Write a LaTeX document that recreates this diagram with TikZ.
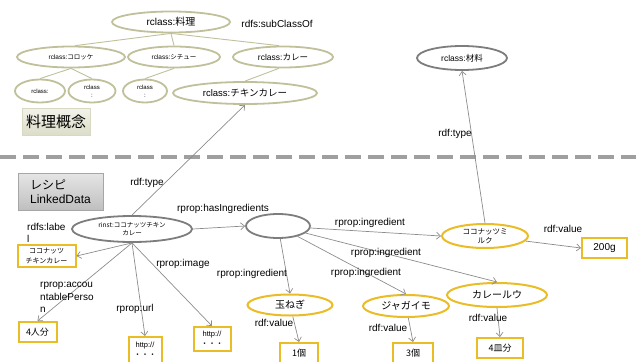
\documentclass[tikz,border=0pt]{standalone}
\usepackage{fontspec}
\setmainfont{Liberation Sans}
\newfontfamily\jp{Noto Sans CJK JP}
\usetikzlibrary{shapes.geometric,arrows.meta}
\definecolor{olv}{RGB}{192,192,155}
\definecolor{gry}{RGB}{125,125,125}
\definecolor{ylw}{RGB}{234,188,38}
\definecolor{lne}{RGB}{140,140,140}
\begin{document}
\begin{tikzpicture}[x=1pt,y=-1pt,
  oell/.style={ellipse,draw=olv,line width=1.8pt,inner sep=0pt,align=center},
  gell/.style={ellipse,draw=gry,line width=1.8pt,inner sep=0pt,align=center},
  yell/.style={ellipse,draw=ylw,line width=2pt,inner sep=0pt,align=center,font=\jp\fontsize{10}{11}\selectfont},
  ybox/.style={rectangle,draw=ylw,line width=2pt,inner sep=0pt,align=center,fill=white,font=\jp\fontsize{9}{10}\selectfont},
  lbl/.style={inner sep=0pt,font=\fontsize{10}{12}\selectfont,align=left},
  tline/.style={draw=olv,line width=0.9pt},
  arr/.style={draw=lne,line width=0.7pt,-{Straight Barb[length=4pt,width=7pt]}},
]
\useasboundingbox (0,0) rectangle (636,361);
% ---------- top: concepts
\node[oell,minimum width=118,minimum height=21,font=\fontsize{10}{12}\selectfont] (ryouri) at (171,22) {rclass:{\jp 料理}};
\node[lbl] (sub) at (277,24) {rdfs:subClassOf};
\node[oell,minimum width=108,minimum height=21,font=\fontsize{6.5}{8}\selectfont] (koro) at (71,57) {rclass:{\jp コロッケ}};
\node[oell,minimum width=92,minimum height=21,font=\fontsize{6.5}{8}\selectfont] (stew) at (174,57) {rclass:{\jp シチュー}};
\node[oell,minimum width=100,minimum height=21,font=\fontsize{8.5}{10}\selectfont] (curry) at (283,57) {rclass:{\jp カレー}};
\node[oell,minimum width=50,minimum height=23,font=\fontsize{6}{7}\selectfont] (s1) at (40,91) {rclass:};
\node[oell,minimum width=47,minimum height=23,font=\fontsize{6}{8}\selectfont] (s2) at (92,91) {rclass\\:};
\node[oell,minimum width=44,minimum height=23,font=\fontsize{6}{8}\selectfont] (s3) at (145,91) {rclass\\:};
\node[oell,minimum width=144,minimum height=22,font=\fontsize{9.5}{11}\selectfont] (chicken) at (245,93) {rclass:{\jp チキンカレー}};
\draw[tline] (ryouri.south) -- (koro.70);
\draw[tline] (ryouri.south) -- (stew.north);
\draw[tline] (ryouri.south) -- (curry.110);
\draw[tline] (koro.south) -- (s1.north);
\draw[tline] (koro.south) -- (s2.north);
\draw[tline] (stew.south) -- (s3.north);
\draw[tline] (curry.250) -- (chicken.north);
\node[draw=olv!60,line width=0.6pt,top color=olv!20,bottom color=olv!55,minimum width=68,minimum height=27,inner sep=0pt,font=\jp\fontsize{15}{16}\selectfont] (gainen) at (56,122) {料理概念};
\node[gell,minimum width=90,minimum height=24,font=\fontsize{8.5}{10}\selectfont] (zairyo) at (462,58) {rclass:{\jp 材料}};
% ---------- separator
\draw[gray!75,line width=4pt,dash pattern=on 16pt off 7pt] (0,157) -- (636,157);
% ---------- bottom: linked data
\node[draw=gray!70,line width=0.6pt,top color=gray!20,bottom color=gray!50,minimum width=85,minimum height=37,inner sep=4pt,align=left,font=\fontsize{12}{14}\selectfont] (recipe) at (60.5,191.5) {{\jp レシピ}\\LinkedData\hspace*{\fill}};
\node[gell,minimum width=120,minimum height=26,font=\jp\fontsize{6.5}{8}\selectfont] (rinst) at (132,229) {rinst:ココナッツチキン\\カレー};
\node[gell,minimum width=64,minimum height=24] (blank) at (278,226) {};
\node[ybox,minimum width=58,minimum height=22,font=\jp\fontsize{7}{10}\selectfont] (lab) at (46.5,256) {ココナッツ\\チキンカレー};
\node[ybox,minimum width=38,minimum height=20] (p4) at (37.5,332) {4人分};
\node[ybox,minimum width=33,minimum height=26,font=\fontsize{7.5}{10}\selectfont] (h1) at (145,350) {http://\\{\jp ・・・}};
\node[ybox,minimum width=37,minimum height=24,font=\fontsize{7.5}{10}\selectfont] (h2) at (212,339) {http://\\{\jp ・・・}};
\node[yell,minimum width=85,minimum height=21] (tama) at (290,305) {玉ねぎ};
\node[yell,minimum width=86,minimum height=22] (jaga) at (406,306) {ジャガイモ};
\node[yell,minimum width=100,minimum height=24] (roux) at (497,295) {カレールウ};
\node[yell,minimum width=86,minimum height=24,font=\jp\fontsize{7.5}{9}\selectfont] (milk) at (485,236) {ココナッツミ\\ルク};
\node[ybox,minimum width=38,minimum height=20] (b1) at (299,353) {1個};
\node[ybox,minimum width=40,minimum height=20] (b3) at (413,353) {3個};
\node[ybox,minimum width=46,minimum height=20] (b4) at (500,348) {4皿分};
\node[ybox,minimum width=45,minimum height=20,font=\fontsize{10}{12}\selectfont] (b200) at (604.5,248) {200g};
% arrows
\draw[arr] (rinst.north) -- (chicken.south);
\draw[arr] (milk.north) -- (zairyo.south);
\draw[arr] (rinst.east) -- (blank.west);
\draw[arr] (rinst.south) -- (lab.east);
\draw[arr] (rinst.south) -- (p4.north);
\draw[arr] (rinst.south) -- (h1.north);
\draw[arr] (rinst.south) -- (h2.north);
\draw[arr] (blank) -- (tama.north);
\draw[arr] (blank) -- (milk.west);
\draw[arr] (blank) -- (roux.north);
\draw[arr] (blank) -- (jaga.north);
\draw[arr] (tama) -- (b1.north);
\draw[arr] (jaga) -- (b3.north);
\draw[arr] (roux.south) -- (b4.north);
\draw[arr] (milk) -- (b200.west);
% labels
\node[lbl] (t1) at (455,134) {rdf:type};
\node[lbl] (t2) at (147,183) {rdf:type};
\node[lbl] (hi) at (223,209) {rprop:hasIngredients};
\node[lbl,anchor=north west] (rl) at (27,223) {rdfs:labe\\l};
\node[lbl] (im) at (183,264) {rprop:image};
\node[lbl] (i1) at (252,274) {rprop:ingredient};
\node[lbl,anchor=north west,font=\fontsize{10}{12.5}\selectfont] (acc) at (40,282) {rprop:accou\\ntablePerso\\n};
\node[lbl] (url) at (135,309) {rprop:url};
\node[lbl] (v1) at (274,323) {rdf:value};
\node[lbl] (i2) at (370,223) {rprop:ingredient};
\node[lbl] (v2) at (563,229) {rdf:value};
\node[lbl] (i3) at (386,253) {rprop:ingredient};
\node[lbl] (i4) at (366,273) {rprop:ingredient};
\node[lbl] (v3) at (388,328) {rdf:value};
\node[lbl] (v4) at (488,318) {rdf:value};
\end{tikzpicture}
\end{document}
